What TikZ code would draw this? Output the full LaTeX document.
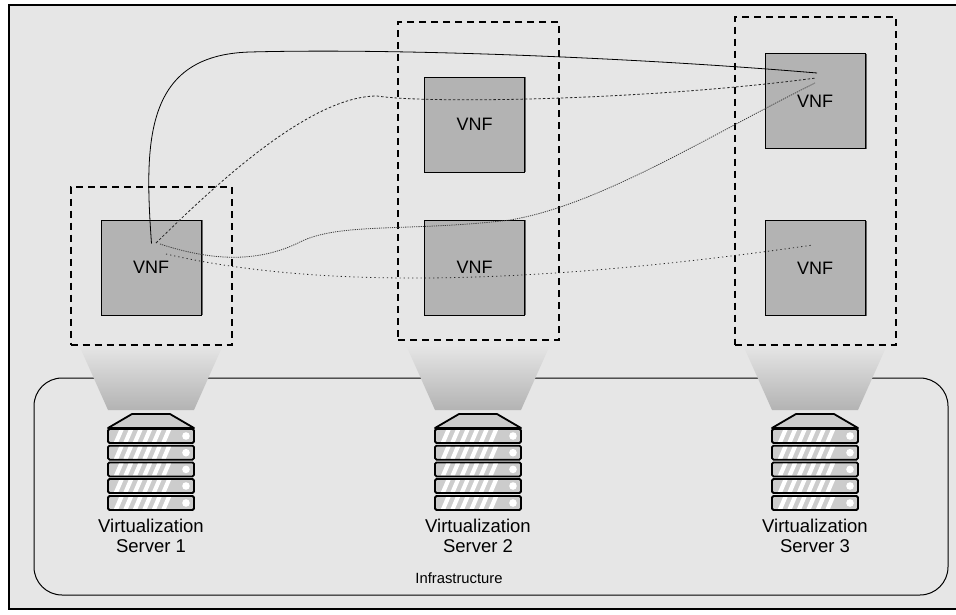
\documentclass[tikz,border=0pt]{standalone}
\usepackage{fontspec}
\usetikzlibrary{calc}
\setmainfont{Liberation Sans}
\definecolor{bgc}{HTML}{E6E6E6}
\definecolor{boxc}{HTML}{B3B3B3}
\definecolor{srvc}{HTML}{CCCCCC}
\tikzset{
  vnf/.style={draw=black,line width=1pt,fill=boxc,minimum width=100pt,minimum height=95pt,inner sep=0pt,font=\fontsize{18}{20}\selectfont},
  hostbox/.style={draw=black,line width=2pt,dash pattern=on 7pt off 5pt},
  lab/.style={align=center,font=\fontsize{18.5}{20}\selectfont,inner sep=0pt},
  lab2/.style={font=\fontsize{14.8}{18}\selectfont,inner sep=0pt},
  link/.style={line width=0.8pt},
  pics/server/.style={code={
    \path[draw=black,line width=1.8pt,fill=srvc,line join=round] (-43,-8) -- (-19,-22) -- (19,-22)--(43,-8) -- cycle;
    \foreach \yy in {0,16.7,33.4,50,67}{
      \begin{scope}[yshift=-\yy pt]
        \path[draw=black,line width=1.8pt,fill=srvc,rounded corners=1.5pt] (-43,-7) rectangle (43,7);
        \foreach \xx in {-37,-27.5,-18,-8.5,1,10.5}{
          \fill[white] (\xx,5.8) -- (\xx+5,-5.8) -- (\xx+9.5,-5.8) -- (\xx+4.5,5.8) -- cycle;
        }
        \fill[white] (35,0) circle (3.8);
      \end{scope}
    }
  }},
}
\begin{document}
\begin{tikzpicture}[x=1pt,y=-1pt]
\useasboundingbox (0,0) rectangle (956,614);
\fill[white] (0,0) rectangle (956,614);
\path[draw=black,line width=1.5pt,fill=bgc] (9,5) rectangle (957,609);
\path[draw=black,line width=1pt,rounded corners=28pt] (34,378) rectangle (948,595);
% funnels
\foreach \cx/\nm in {151/a,478/b,815/c}{
  \shade[top color=bgc,bottom color=boxc] (\cx-72,345) -- (\cx+72,345) -- (\cx+43,410) -- (\cx-43,410) -- cycle;
}
\node[hostbox,minimum width=161pt,minimum height=158pt,inner sep=0pt] (h1) at (151,265.5) {};
\node[hostbox,minimum width=161pt,minimum height=318pt,inner sep=0pt] (h2) at (478.5,181) {};
\node[hostbox,minimum width=161pt,minimum height=328pt,inner sep=0pt] (h3) at (815,180.5) {};
\node[vnf] (v1) at (151,267.5) {VNF};
\node[vnf] (v2) at (474.5,124.5) {VNF};
\node[vnf] (v3) at (474.5,267.5) {VNF};
\node[vnf] (v4) at (815,101) {VNF};
\node[vnf] (v5) at (815,268) {VNF};
\foreach \n in {v1,v2,v3,v4,v5}{\draw[black!60,line width=1pt] ($(\n.north east)+(0.5,0.5)$) -- ($(\n.south east)+(0.5,-0.5)$);}
% anchors
\coordinate (s1) at (151.5,243.5);
\coordinate (s2) at (156,243);
\coordinate (s3) at (160,244);
\coordinate (s4) at (166,254);
\coordinate (e1) at (817,73);
\coordinate (e2) at (816,78);
\coordinate (e3) at (815,83);
\coordinate (e4) at (813,245);
\draw[link,black] (s1) .. controls (144,140) and (145,55) .. (250,52) .. controls (400,48) and (640,58) .. (e1);
\draw[link,black!85,dash pattern=on 2.5pt off 2pt] (s2) .. controls (215,185) and (310,96) .. (377,96) .. controls (430,104) and (650,100) .. (e2);
\draw[link,black!75,dash pattern=on 1.2pt off 1pt] (s3) .. controls (215,262) and (260,262) .. (300,242) .. controls (340,222) and (410,232) .. (510,220) .. controls (600,205) and (710,135) .. (e3);
\draw[link,black!85,dash pattern=on 1.2pt off 3pt] (s4) .. controls (300,285) and (500,290) .. (e4);
% servers
\pic at (151,436) {server};
\pic at (478,436) {server};
\pic at (815,436) {server};
\node[lab] (l1) at (151,536) {Virtualization\\Server 1};
\node[lab] (l2) at (478,536) {Virtualization\\Server 2};
\node[lab] (l3) at (815,536) {Virtualization\\Server 3};
\node[lab2] (l4) at (459,578) {Infrastructure};
\end{tikzpicture}
\end{document}
